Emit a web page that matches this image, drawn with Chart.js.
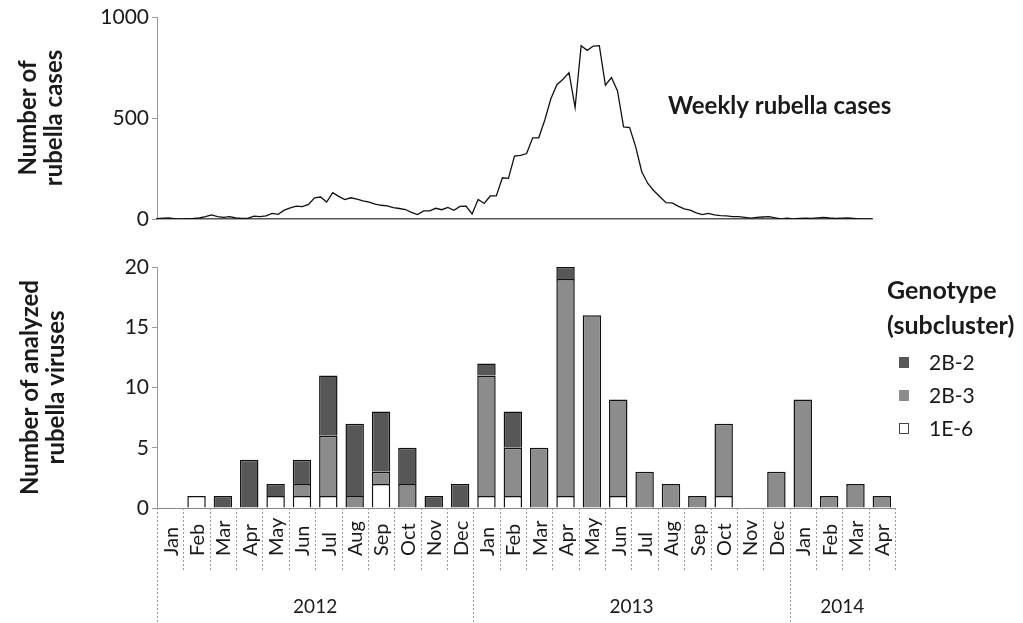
<!DOCTYPE html>
<html>
<head>
<meta charset="utf-8">
<script src="https://cdn.jsdelivr.net/npm/chart.js@4"></script>
<style>
html, body { margin: 0; padding: 0; background: #fff; }
#wrap { position: relative; width: 1023px; height: 623px; }
canvas { position: absolute; left: 0; top: 0; }
</style>
</head>
<body>
<div id="wrap">
  <canvas id="bars" width="1023" height="623"></canvas>
  <canvas id="weekly" width="1023" height="240"></canvas>
</div>
<script>
// weekly notified cases, 2012 week 1 .. 2014 week 15
var weeklyCases = [
  2, 4, 5, 0, 1, 2, 3, 5, 12, 20, 12, 8, 12, 5, 3, 3, 14, 12, 15, 28, 23, 44, 55, 64, 61, 72,
  105, 109, 84, 130, 112, 96, 105, 98, 90, 84, 74, 68, 65, 56, 52, 47, 33, 22, 40, 40, 53, 46, 57, 43, 62, 64,
  25, 97, 77, 114, 114, 204, 201, 311, 315, 324, 402, 402, 490, 595, 665, 692, 725, 552, 858, 835,
  856, 858, 662, 700, 634, 456, 453, 357, 234, 176, 140, 110, 81, 80, 64, 50, 44, 30, 22, 28,
  20, 17, 15, 12, 12, 8, 4, 8, 10, 12, 6, 0,
  4, 0, 3, 4, 3, 6, 8, 5, 3, 4, 5, 3, 1, 0, 0
];
var years = ['2012', '2013', '2014'];
var weeksPerYear = [52, 52, 15];
var monthsPerYear = [12, 12, 4];
var monthNames = ['Jan', 'Feb', 'Mar', 'Apr', 'May', 'Jun', 'Jul', 'Aug', 'Sep', 'Oct', 'Nov', 'Dec'];

// analyzed viruses per month, Jan 2012 .. Apr 2014
var g1E6 = [0, 1, 0, 0, 1, 1, 1, 0, 2, 0, 0, 0,  1, 1, 0, 1, 0, 1, 0, 0, 0, 1, 0, 0,  0, 0, 0, 0];
var g2B3 = [0, 0, 0, 0, 0, 1, 5, 1, 1, 2, 0, 0,  10, 4, 5, 18, 16, 8, 3, 2, 1, 6, 0, 3,  9, 1, 2, 1];
var g2B2 = [0, 0, 1, 4, 1, 2, 5, 6, 5, 3, 1, 2,  1, 3, 0, 1, 0, 0, 0, 0, 0, 0, 0, 0,  0, 0, 0, 0];

var weekLabels = [];
var monthLabels = [];
years.forEach(function (y, i) {
  for (var w = 1; w <= weeksPerYear[i]; w++) weekLabels.push(y + '-W' + w);
  for (var m = 0; m < monthsPerYear[i]; m++) monthLabels.push(monthNames[m]);
});

function nz(v) { return v === 0 ? null : v; }
function plain(v) { return String(v); }

Chart.defaults.font.family = 'Lato';
Chart.defaults.color = '#1a1a1a';

var caption = {
  id: 'caption',
  afterDraw: function (chart) {
    var ctx = chart.ctx;
    ctx.save();
    ctx.font = 'bold 24px Lato';
    ctx.fillStyle = '#1a1a1a';
    ctx.textBaseline = 'middle';
    ctx.fillText(chart.data.datasets[0].label, 668, 106);
    ctx.restore();
  }
};

new Chart(document.getElementById('weekly'), {
  type: 'line',
  data: {
    labels: weekLabels,
    datasets: [{
      label: 'Weekly rubella cases',
      data: weeklyCases,
      borderColor: '#111',
      borderWidth: 1.3,
      pointRadius: 0,
      tension: 0,
      fill: false
    }]
  },
  options: {
    responsive: false,
    animation: false,
    layout: { padding: { left: 0, top: 17, right: 151, bottom: 21 } },
    plugins: { legend: { display: false }, tooltip: { enabled: false } },
    scales: {
      x: {
        ticks: { display: false },
        grid: { display: false },
        border: { color: '#555', width: 1.5 },
        afterFit: function (s) { s.height = 0; }
      },
      y: {
        min: 0,
        max: 1000,
        ticks: { stepSize: 500, font: { size: 21 }, padding: 3, callback: plain },
        grid: { drawOnChartArea: false, tickLength: 5, color: '#999' },
        border: { color: '#999', dash: [2, 2] },
        title: {
          display: true,
          text: ['Number of', 'rubella cases'],
          font: { size: 24, weight: 'bold', lineHeight: 1.1 },
          padding: { top: 15 }
        },
        afterFit: function (s) { s.width = 157; }
      }
    }
  },
  plugins: [caption]
});

var monthAxis = {
  id: 'monthAxis',
  afterDraw: function (chart) {
    var ctx = chart.ctx, xs = chart.scales.x, top = chart.chartArea.bottom;
    var n = monthLabels.length;
    var yearStarts = [0];
    monthsPerYear.forEach(function (m, i) { yearStarts.push(yearStarts[i] + m); });

    ctx.save();
    ctx.strokeStyle = '#999';
    ctx.lineWidth = 1;
    ctx.setLineDash([2, 2]);
    for (var i = 0; i <= n; i++) {
      var x = Math.round(xs.getPixelForValue(i - 0.5)) + 0.5;
      var bottom = (i < n && yearStarts.indexOf(i) >= 0) ? 622 : top + 64;
      ctx.beginPath();
      ctx.moveTo(x, top);
      ctx.lineTo(x, bottom);
      ctx.stroke();
    }
    ctx.setLineDash([]);

    ctx.fillStyle = '#1a1a1a';
    ctx.font = '20px Lato';
    ctx.textAlign = 'left';
    ctx.textBaseline = 'middle';
    monthLabels.forEach(function (lab, i) {
      ctx.save();
      ctx.translate(xs.getPixelForValue(i), top + 48);
      ctx.rotate(-Math.PI / 2);
      ctx.fillText(lab, 0, 1);
      ctx.restore();
    });

    ctx.font = '19px Lato';
    ctx.textAlign = 'center';
    years.forEach(function (y, i) {
      var a = xs.getPixelForValue(yearStarts[i] - 0.5);
      var b = xs.getPixelForValue(yearStarts[i + 1] - 0.5);
      ctx.fillText(y, (a + b) / 2, 607);
    });
    ctx.restore();
  }
};

var genotypeLegend = {
  id: 'genotypeLegend',
  afterDraw: function (chart) {
    var ctx = chart.ctx;
    ctx.save();
    ctx.fillStyle = '#1a1a1a';
    ctx.textBaseline = 'middle';
    ctx.font = 'bold 25px Lato';
    ctx.fillText('Genotype', 887, 291);
    ctx.fillText('(subcluster)', 887, 326);
    ctx.font = '21px Lato';
    var sets = chart.data.datasets.slice().reverse();
    sets.forEach(function (ds, i) {
      var y = 363 + i * 33;
      ctx.fillStyle = ds.backgroundColor;
      ctx.fillRect(899, y - 6, 10, 11);
      ctx.strokeStyle = '#444';
      ctx.lineWidth = 1;
      if (ds.backgroundColor === '#ffffff') ctx.strokeRect(899.5, y - 5.5, 9, 10);
      ctx.fillStyle = '#1a1a1a';
      ctx.fillText(ds.label, 929, y);
    });
    ctx.restore();
  }
};

new Chart(document.getElementById('bars'), {
  type: 'bar',
  data: {
    labels: monthLabels,
    datasets: [
      { label: '1E-6', data: g1E6.map(nz), backgroundColor: '#ffffff' },
      { label: '2B-3', data: g2B3.map(nz), backgroundColor: '#8c8c8c' },
      { label: '2B-2', data: g2B2.map(nz), backgroundColor: '#575757' }
    ]
  },
  options: {
    responsive: false,
    animation: false,
    datasets: {
      bar: { barPercentage: 0.7, categoryPercentage: 1, borderColor: '#111', borderWidth: 1.5 }
    },
    layout: { padding: { left: 0, top: 267, right: 128, bottom: 0 } },
    plugins: { legend: { display: false }, tooltip: { enabled: false } },
    scales: {
      x: {
        stacked: true,
        ticks: { display: false },
        grid: { display: false },
        border: { color: '#888' },
        afterFit: function (s) { s.height = 115; }
      },
      y: {
        stacked: true,
        min: 0,
        max: 20,
        ticks: { stepSize: 5, font: { size: 21 }, padding: 3, callback: plain },
        grid: { drawOnChartArea: false, tickLength: 5, color: '#999' },
        border: { color: '#999', dash: [2, 2] },
        title: {
          display: true,
          text: ['Number of analyzed', 'rubella viruses'],
          font: { size: 24, weight: 'bold', lineHeight: 1.1 },
          padding: { top: 17 }
        },
        afterFit: function (s) { s.width = 157; }
      }
    }
  },
  plugins: [monthAxis, genotypeLegend]
});
</script>
</body>
</html>
